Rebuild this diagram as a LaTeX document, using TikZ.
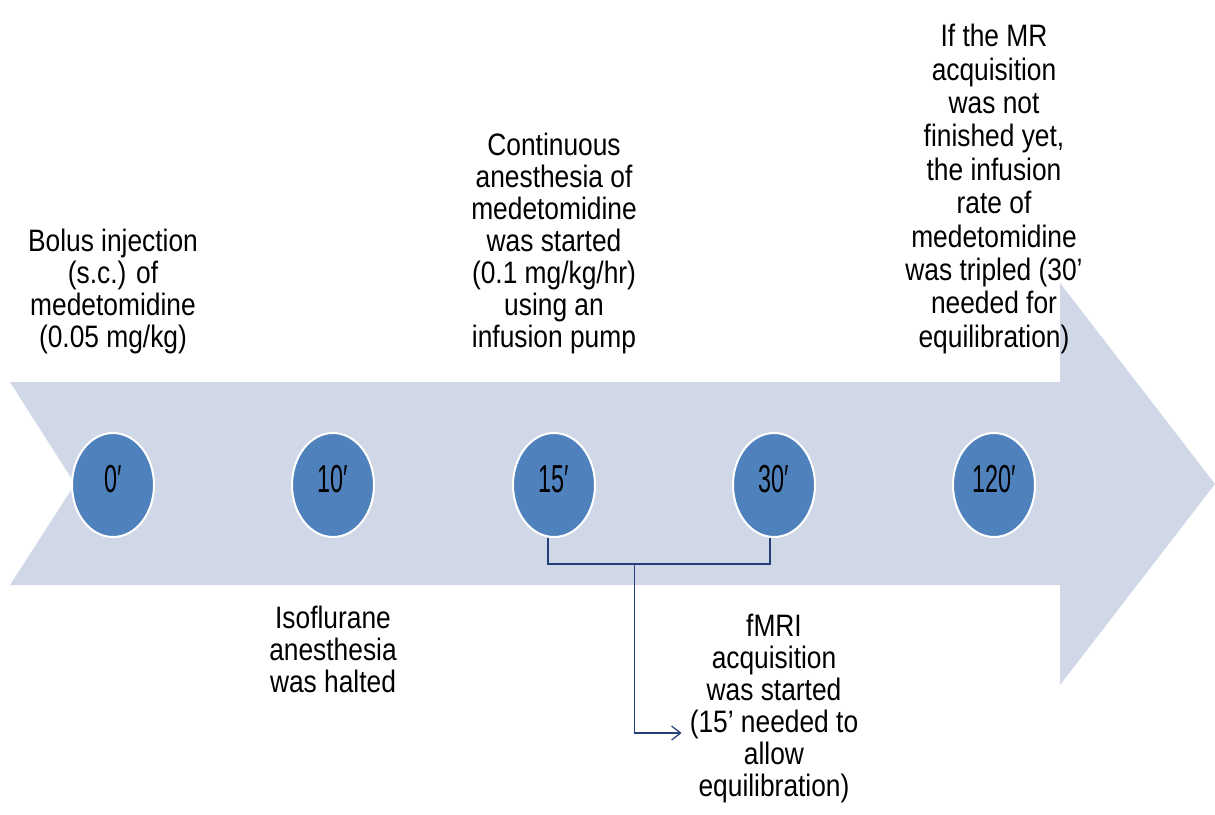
\documentclass[tikz,border=0pt]{standalone}
\usepackage{fontspec}
\usepackage{xcolor}
\usetikzlibrary{shapes.geometric, arrows.meta, positioning, calc}
\setmainfont{Liberation Sans}
\newfontfamily\labfont[FakeStretch=0.85]{Liberation Sans}
\newfontfamily\numfont[FakeStretch=0.6]{Liberation Sans}
\definecolor{shaftblue}{HTML}{D0D8E8}
\definecolor{dotblue}{HTML}{4F81BD}
\definecolor{linkblue}{HTML}{243F7A}

\begin{document}
\begin{tikzpicture}[
    x=1pt, y=-1pt,
    node distance=78pt,
    event/.style={ellipse, fill=dotblue, draw=white, line width=2pt, minimum width=82pt, minimum height=104pt, inner sep=0pt, text height=22pt, text depth=7pt, font=\numfont\fontsize{39pt}{40pt}\selectfont},
    note/.style={inner sep=0pt, align=center, font=\labfont\fontsize{31pt}{32pt}\selectfont},
    link/.style={linkblue, line width=1.2pt},
    linkarrow/.style={link, -{Straight Barb[length=9pt, width=14pt]}}
]
\useasboundingbox (0,0) rectangle (1215,814);

\fill [shaftblue] (10,382) -- (1060,382) -- (1060,283) -- (1215,484) -- (1060,685) -- (1060,585) -- (10,585) -- (75,484) -- cycle;

\node (c0) [event] at (113,485) {0′};
\node (c10) [event] at (333,485) {10′};
\node (c15) [event] at (554,485) {15′};
\node (c30) [event] at (774,485) {30′};
\node (c120) [event] at (994,485) {120′};

\node (t0) [note, above=of c0] {Bolus injection\\(s.c.) of\\medetomidine\\(0.05 mg/kg)};
\node (t15) [note, above=of c15] {Continuous\\anesthesia of\\medetomidine\\was started\\(0.1 mg/kg/hr)\\using an\\infusion pump};
\node (t120) [note, above=of c120, font=\labfont\fontsize{31pt}{33.4pt}\selectfont] {If the MR\\acquisition\\was not\\finished yet,\\the infusion\\rate of\\medetomidine\\was tripled (30’\\needed for\\equilibration)};
\node (t10) [note, below=68pt of c10] {Isoflurane\\anesthesia\\was halted};
\node (t30) [note, below=76pt of c30] {fMRI\\acquisition\\was started\\(15’ needed to\\allow\\equilibration)};

\coordinate (b15) at ([xshift=-6pt, yshift=-26pt]c15.south);
\coordinate (b30) at ([xshift=-4pt, yshift=-26pt]c30.south);
\coordinate (bmid) at ($(b15)!0.39!(b30)$);
\draw [link] ([xshift=-6pt]c15.south) -- (b15) -- (b30) -- ([xshift=-4pt]c30.south);
\draw [linkarrow] (bmid) |- ([xshift=-8pt]t30.west |- 0,733);
\end{tikzpicture}
\end{document}
